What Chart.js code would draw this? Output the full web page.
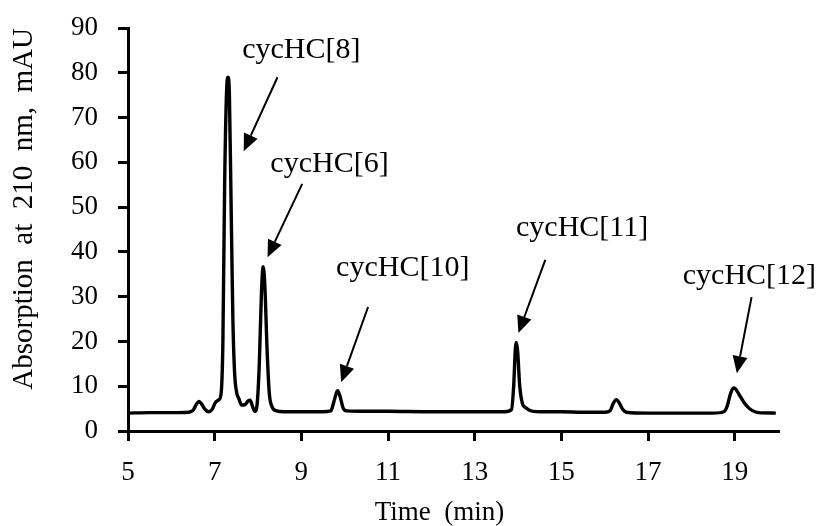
<!DOCTYPE html>
<html>
<head>
<meta charset="utf-8">
<script src="https://cdn.jsdelivr.net/npm/chart.js@4.4.1/dist/chart.umd.min.js"></script>
<style>
  html, body { margin: 0; padding: 0; background: #fff; }
  #grafica { display: block; }
</style>
</head>
<body>
<canvas id="grafica" width="822" height="526"></canvas>
<script>
// Cromatograma: tiempo de retención (min) y absorbancia a 210 nm (mAU)
const tiempos = [
  5.0, 5.5, 6.0, 6.4, 6.5, 6.58, 6.64, 6.7, 6.78, 6.86, 6.94, 7.02, 7.1, 7.15,
  7.19, 7.23, 7.28, 7.31, 7.34, 7.38, 7.42, 7.46, 7.51, 7.56, 7.62, 7.7, 7.78,
  7.82, 7.87, 7.93, 7.98, 8.03, 8.08, 8.12, 8.16, 8.21, 8.26, 8.32, 8.43, 8.6,
  9.0, 9.5, 9.68, 9.75, 9.82, 9.84, 9.9, 9.97, 10.05, 10.5, 11.0, 12.0, 13.0,
  13.7, 13.85, 13.9, 13.94, 13.96, 13.99, 14.04, 14.1, 14.18, 14.3, 14.6, 15.0,
  15.5, 16.0, 16.13, 16.2, 16.27, 16.34, 16.42, 16.5, 17.0, 17.5, 18.0, 18.5,
  18.75, 18.83, 18.9, 18.97, 19.02, 19.1, 19.2, 19.3, 19.4, 19.55, 19.95
];
const absorcion = [
  4.0, 4.1, 4.1, 4.2, 4.6, 6.0, 6.6, 6.0, 4.8, 4.3, 4.8, 6.4, 7.0, 8.5,
  20, 55, 77, 79, 75, 50, 25, 13, 8.5, 7.2, 5.8, 5.9, 6.8,
  6.9, 5.6, 4.4, 6.0, 15, 31, 36.7, 32, 18, 8.5, 5.5, 4.5, 4.3,
  4.3, 4.3, 4.5, 6.5, 8.8, 9.0, 7.5, 5.0, 4.5, 4.4, 4.4, 4.3, 4.3,
  4.3, 4.8, 10, 18.5, 19.8, 18, 10, 6.2, 5.2, 4.5, 4.3, 4.3,
  4.2, 4.2, 4.6, 6.2, 7.0, 6.2, 4.8, 4.2, 4.0, 4.0, 4.0, 4.0,
  4.3, 5.6, 8.2, 9.6, 9.4, 8.2, 6.6, 5.4, 4.6, 4.1, 4.0
];
const ticksTiempo = [5, 7, 9, 11, 13, 15, 17, 19];
const picos = ["cycHC[8]", "cycHC[6]", "cycHC[10]", "cycHC[11]", "cycHC[12]"];

// Ubicación de cada etiqueta y su flecha, en unidades de los ejes
const anotaciones = [
  { texto: [9.0, 85.0],  desde: [8.45, 79.0],  hasta: [7.67, 62.5] },
  { texto: [9.65, 59.5], desde: [9.02, 55.2],  hasta: [8.22, 38.8] },
  { texto: [11.34, 36.4], desde: [10.54, 27.7], hasta: [9.92, 10.9] },
  { texto: [15.48, 45.2], desde: [14.63, 38.2], hasta: [14.01, 21.9] },
  { texto: [19.34, 34.6], desde: [19.39, 29.9], hasta: [19.05, 12.9] }
];

const fuente = "'Liberation Serif', 'Times New Roman', serif";
Chart.defaults.color = "#000";
Chart.defaults.font.family = fuente;

// Etiquetas de los picos con flechas
const pluginPicos = {
  id: "picos",
  afterDatasetsDraw(chart) {
    const { ctx, scales } = chart;
    const px = v => scales.x.getPixelForValue(v);
    const py = v => scales.y.getPixelForValue(v);
    ctx.save();
    ctx.fillStyle = "#000";
    ctx.strokeStyle = "#000";
    ctx.font = "30px " + fuente;
    ctx.textAlign = "center";
    ctx.textBaseline = "middle";
    anotaciones.forEach((a, i) => {
      ctx.fillText(picos[i], px(a.texto[0]), py(a.texto[1]));

      const x1 = px(a.desde[0]), y1 = py(a.desde[1]);
      const x2 = px(a.hasta[0]), y2 = py(a.hasta[1]);
      const ang = Math.atan2(y2 - y1, x2 - x1);
      const largo = 17, ancho = 7.5;
      const bx = x2 - largo * Math.cos(ang), by = y2 - largo * Math.sin(ang);

      ctx.lineWidth = 2;
      ctx.beginPath();
      ctx.moveTo(x1, y1);
      ctx.lineTo(bx, by);
      ctx.stroke();

      ctx.beginPath();
      ctx.moveTo(x2, y2);
      ctx.lineTo(bx + ancho * Math.sin(ang), by - ancho * Math.cos(ang));
      ctx.lineTo(bx - ancho * Math.sin(ang), by + ancho * Math.cos(ang));
      ctx.closePath();
      ctx.fill();
    });
    ctx.restore();
  }
};

new Chart(document.getElementById("grafica"), {
  type: "line",
  data: {
    datasets: [{
      data: tiempos.map((t, i) => ({ x: t, y: absorcion[i] })),
      borderColor: "#000",
      borderWidth: 3.4,
      pointRadius: 0,
      cubicInterpolationMode: "monotone",
      fill: false
    }]
  },
  options: {
    responsive: false,
    animation: false,
    layout: { padding: { top: 28, right: 44, left: 0, bottom: 0 } },
    plugins: { legend: { display: false }, tooltip: { enabled: false } },
    scales: {
      x: {
        type: "linear",
        min: 5,
        max: 20,
        afterBuildTicks: s => { s.ticks = ticksTiempo.map(v => ({ value: v })); },
        afterFit: s => { s.height = 95; s.paddingLeft = 0; s.paddingRight = 0; },
        grid: { drawOnChartArea: false, color: "#000", lineWidth: 3, tickLength: 10 },
        border: { color: "#000", width: 3 },
        ticks: { font: { size: 27 }, padding: 16, maxRotation: 0, autoSkip: false },
        title: {
          display: true,
          text: "Time  (min)    ",
          font: { size: 27, lineHeight: 1 },
          padding: { top: 0, bottom: 0 }
        }
      },
      y: {
        min: 0,
        max: 90,
        ticks: { stepSize: 10, font: { size: 27 }, padding: 20 },
        afterFit: s => { s.width = 128; s.paddingTop = 0; s.paddingBottom = 0; },
        grid: { drawOnChartArea: false, color: "#000", lineWidth: 3, tickLength: 10 },
        border: { color: "#000", width: 3 },
        title: {
          display: true,
          text: "Absorption  at  210  nm,  mAU",
          align: "end",
          font: { size: 29, lineHeight: 1 },
          padding: { top: 10, bottom: 0 }
        }
      }
    }
  },
  plugins: [pluginPicos]
});
</script>
</body>
</html>
